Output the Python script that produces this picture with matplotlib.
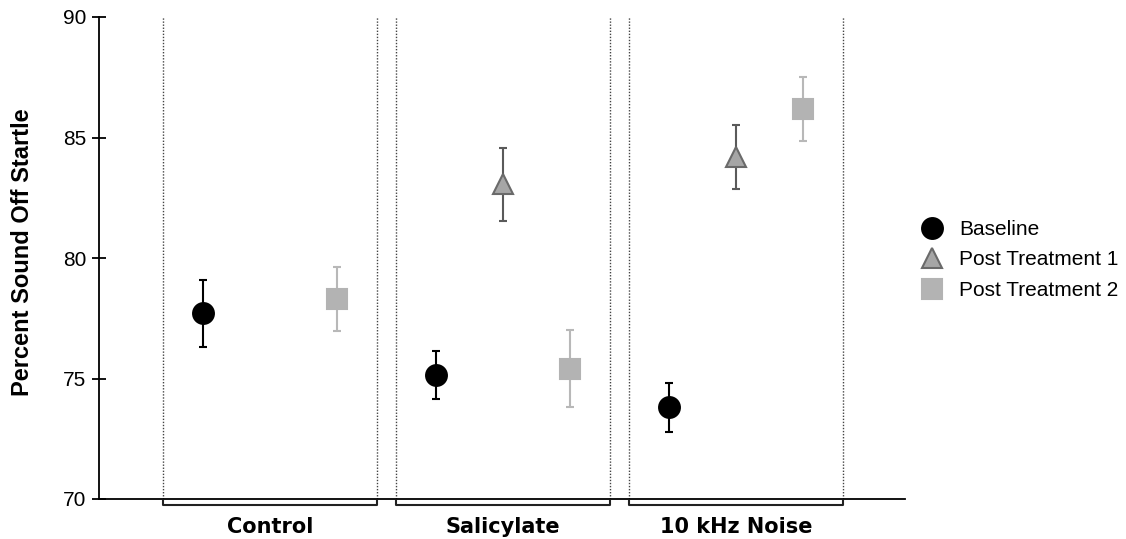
import numpy as np
import matplotlib
matplotlib.use("Agg")
import matplotlib.pyplot as plt
from matplotlib.lines import Line2D
import matplotlib.transforms as mtransforms

plt.rcParams['font.family'] = ['Liberation Sans', 'DejaVu Sans']

# --- data ---
groups = ['Control', 'Salicylate', '10 kHz Noise']
series = ['Baseline', 'Post Treatment 1', 'Post Treatment 2']

baseline_mean = [77.7, 75.15, 73.8]
baseline_err = [1.4, 1.0, 1.0]
pt1_mean = [np.nan, 83.05, 84.2]
pt1_err = [np.nan, 1.52, 1.33]
pt2_mean = [78.3, 75.4, 86.17]
pt2_err = [1.32, 1.6, 1.33]

yticks = [70, 75, 80, 85, 90]

# --- styling ---
offsets = [-0.288, 0.0, 0.288]
half_w = 0.46
styles = [
    dict(marker='o', ms=15, mfc='black', mec='black', ecolor='black'),
    dict(marker='^', ms=15, mfc='#a6a6a6', mec='#6a6a6a', ecolor='#5a5a5a'),
    dict(marker='s', ms=14.5, mfc='#b3b3b3', mec='#b3b3b3', ecolor='#b8b8b8'),
]

fig = plt.figure(figsize=(11.26, 5.39), dpi=100)
ax = fig.add_axes([99 / 1126, 1 - 499 / 539, 806 / 1126, 482 / 539])

x = np.arange(len(groups))
means = [baseline_mean, pt1_mean, pt2_mean]
errs = [baseline_err, pt1_err, pt2_err]
for m, e, off, st in zip(means, errs, offsets, styles):
    ax.errorbar(x + off, m, yerr=e, fmt='none', ecolor=st['ecolor'],
                elinewidth=1.5, capsize=3, capthick=1.5, zorder=2)
    ax.plot(x + off, m, linestyle='none', marker=st['marker'], ms=st['ms'],
            mfc=st['mfc'], mec=st['mec'], mew=1.5, zorder=3)

# dotted group boxes and brackets
trans = mtransforms.blended_transform_factory(ax.transData, ax.transAxes)
for i in x:
    for side in (-half_w, half_w):
        ax.axvline(i + side, color='#444444', lw=1.0, ls=(0, (1, 1.2)), zorder=1)
    bx = [i - half_w, i - half_w, i + half_w, i + half_w]
    by = [-0.004, -0.013, -0.013, -0.004]
    ax.add_line(Line2D(bx, by, transform=trans, color='#222222', lw=1.5,
                       clip_on=False))
    ax.text(i, -0.058, groups[i], transform=trans, ha='center', va='center',
            fontsize=15, fontweight='bold', family='DejaVu Sans')

ax.set_xlim(-0.734, 2.725)
ax.set_ylim(70, 90)
ax.set_yticks(yticks)
ax.set_xticks([])
ax.tick_params(axis='y', direction='inout', length=10, width=1.3,
               labelsize=15, pad=4)
for s in ('top', 'right'):
    ax.spines[s].set_visible(False)
for s in ('left', 'bottom'):
    ax.spines[s].set_linewidth(1.3)

ax.set_ylabel('Percent Sound Off Startle', fontsize=17, fontweight='bold',
              va='center')
ax.yaxis.set_label_coords(-0.0955, 0.512)

handles = [Line2D([], [], linestyle='none', marker=st['marker'], ms=st['ms'],
                  mfc=st['mfc'], mec=st['mec'], mew=1.5) for st in styles]
fig.legend(handles, series, loc='center left',
           bbox_to_anchor=(903 / 1126, 1 - 260 / 539), frameon=False,
           fontsize=15, handlelength=1.0, handletextpad=0.8,
           labelspacing=0.55)

fig.savefig('out.png', dpi=100)
